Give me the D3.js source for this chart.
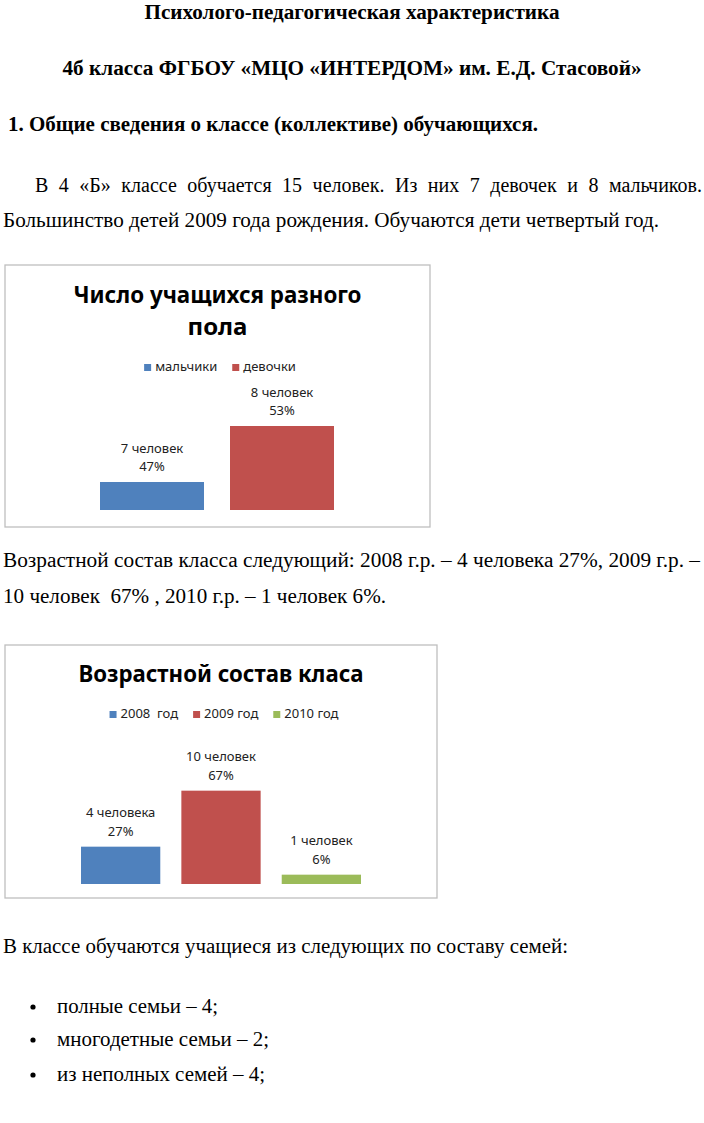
<!DOCTYPE html>
<html>
<head>
<meta charset="utf-8">
<script src="https://cdn.jsdelivr.net/npm/d3@7"></script>
<style>
body { margin: 0; background: #fff; }
text { white-space: pre; }
</style>
</head>
<body>
<div id="page"></div>
<script>
// chart data
const genderNames = ["мальчики", "девочки"];
const genderCounts = [7, 8];
const genderLabels = ["7 человек", "8 человек"];
const genderPct = ["47%", "53%"];

const yearNames = ["2008  год", "2009 год", "2010 год"];
const yearCounts = [4, 10, 1];
const yearLabels = ["4 человека", "10 человек", "1 человек"];
const yearPct = ["27%", "67%", "6%"];

const colors = ["#4F81BD", "#C0504D", "#9BBB59"];

const W = 704, H = 1123;
const serif = "'Liberation Serif', 'Times New Roman', serif";
const sans = "'Noto Sans', 'Open Sans', sans-serif";

let svg = d3.select("#page").append("svg")
    .attr("width", W)
    .attr("height", H);

svg.append("rect").attr("width", W).attr("height", H).attr("fill", "#fff");

function styleSerif(t, o) {
    return t.style("font-family", serif)
        .style("font-size", (o.size || 20) + "px")
        .style("font-weight", o.bold ? "bold" : "normal")
        .attr("fill", "#000");
}

// plain document text, one line at a time
function docLine(txt, x, y, o) {
    o = o || {};
    let t = styleSerif(svg.append("text"), o)
        .attr("x", x)
        .attr("y", y)
        .style("text-anchor", o.anchor || "start")
        .text(txt);
    if (o.width) {
        t.attr("textLength", o.width).attr("lengthAdjust", "spacingAndGlyphs");
    }
    return t;
}

// justified line: spread the words so the line fills x0..x1
function justLine(txt, x0, x1, y, o) {
    o = o || {};
    let words = txt.split(" ");
    let g = svg.append("g");
    let widths = words.map(function(w) {
        let t = styleSerif(g.append("text"), o).attr("y", y).text(w);
        return t.node().getComputedTextLength();
    });
    let gap = (x1 - x0 - d3.sum(widths)) / (words.length - 1);
    let cur = x0;
    g.selectAll("text").each(function(d, i) {
        d3.select(this).attr("x", cur);
        cur += widths[i] + gap;
    });
}

docLine("Психолого-педагогическая характеристика", 352, 19, {bold: true, anchor: "middle", width: 415});
docLine("4б класса ФГБОУ «МЦО «ИНТЕРДОМ» им. Е.Д. Стасовой»", 352, 75, {bold: true, anchor: "middle", width: 579});
docLine("1. Общие сведения о классе (коллективе) обучающихся.", 8, 131, {bold: true, width: 530});
justLine("В 4 «Б» классе обучается 15 человек. Из них 7 девочек и 8 мальчиков.", 35, 702, 192);
docLine("Большинство детей 2009 года рождения. Обучаются дети четвертый год.", 3, 227, {width: 656});
docLine("Возрастной состав класса следующий: 2008 г.р. – 4 человека 27%, 2009 г.р. –", 3, 567, {width: 697});
docLine("10 человек  67% , 2010 г.р. – 1 человек 6%.", 3, 603, {width: 383});
docLine("В классе обучаются учащиеся из следующих по составу семей:", 3, 953, {width: 565});

const bullets = [["полные семьи – 4;", 1013, 161], ["многодетные семьи – 2;", 1046, 212], ["из неполных семей – 4;", 1081, 208]];
bullets.forEach(function(b) {
    svg.append("circle").attr("cx", 33).attr("cy", b[1] - 6).attr("r", 2.6).attr("fill", "#000");
    docLine(b[0], 57, b[1], {width: b[2]});
});

// Excel-like column chart
function drawChart(cfg) {
    let g = svg.append("g");

    g.append("rect")
        .attr("x", cfg.frame[0]).attr("y", cfg.frame[1])
        .attr("width", cfg.frame[2] - cfg.frame[0])
        .attr("height", cfg.frame[3] - cfg.frame[1])
        .attr("fill", "#fff")
        .attr("stroke", "#bfbfbf")
        .attr("stroke-width", 1.3);

    let cx = (cfg.frame[0] + cfg.frame[2]) / 2;

    cfg.title.forEach(function(tl) {
        let t = g.append("text")
            .attr("x", cx).attr("y", tl[1])
            .style("font-family", sans)
            .style("font-size", "24px")
            .style("font-weight", "bold")
            .style("text-anchor", "middle")
            .attr("fill", "#000")
            .text(tl[0]);
        if (tl[2]) t.attr("textLength", tl[2]).attr("lengthAdjust", "spacingAndGlyphs");
    });

    // legend, centered
    let leg = g.append("g");
    let lx = 0;
    cfg.names.forEach(function(n, i) {
        let item = leg.append("g").attr("transform", `translate(${lx}, 0)`);
        item.append("rect")
            .attr("x", 0).attr("y", -7)
            .attr("width", 7).attr("height", 7)
            .attr("fill", colors[i]);
        let t = item.append("text")
            .attr("x", 11).attr("y", 0)
            .style("font-family", sans)
            .style("font-size", "13px")
            .attr("fill", "#222")
            .text(n);
        lx += 11 + t.node().getComputedTextLength() + 15;
    });
    lx -= 15;
    leg.attr("transform", `translate(${cfg.legendCx - lx / 2}, ${cfg.legendY})`);

    let x = d3.scaleBand()
        .domain(cfg.names)
        .range(cfg.xRange)
        .paddingInner(cfg.pad);

    let y = d3.scaleLinear()
        .domain(cfg.yDomain)
        .range(cfg.yRange);

    g.selectAll("rect.bar")
        .data(cfg.counts)
        .enter()
        .append("rect")
        .attr("class", "bar")
        .attr("x", (d, i) => x(cfg.names[i]))
        .attr("y", d => y(d))
        .attr("width", x.bandwidth())
        .attr("height", d => y(cfg.yDomain[0]) - y(d))
        .attr("fill", (d, i) => colors[i]);

    let labels = g.selectAll("g.lbl")
        .data(cfg.counts)
        .enter()
        .append("g")
        .attr("class", "lbl")
        .attr("transform", (d, i) => `translate(${x(cfg.names[i]) + x.bandwidth() / 2}, ${y(d)})`);

    labels.append("text")
        .attr("y", -29.5)
        .style("font-family", sans)
        .style("font-size", "13px")
        .style("text-anchor", "middle")
        .attr("fill", "#222")
        .text((d, i) => cfg.labels[i]);

    labels.append("text")
        .attr("y", -11)
        .style("font-family", sans)
        .style("font-size", "13px")
        .style("text-anchor", "middle")
        .attr("fill", "#222")
        .text((d, i) => cfg.pct[i]);
}

drawChart({
    frame: [5, 265, 430, 527],
    title: [["Число учащихся разного", 303, 288], ["пола", 335, 0]],
    legendCx: 220, legendY: 371,
    names: genderNames, counts: genderCounts, labels: genderLabels, pct: genderPct,
    xRange: [100, 334], pad: 0.2,
    yDomain: [6.5, 8.5], yRange: [510, 398]
});

drawChart({
    frame: [5, 645, 437, 898],
    title: [["Возрастной состав класа", 682, 285]],
    legendCx: 224, legendY: 718,
    names: yearNames, counts: yearCounts, labels: yearLabels, pct: yearPct,
    xRange: [81, 361], pad: 0.21,
    yDomain: [0, 12], yRange: [884, 772]
});
</script>
</body>
</html>
